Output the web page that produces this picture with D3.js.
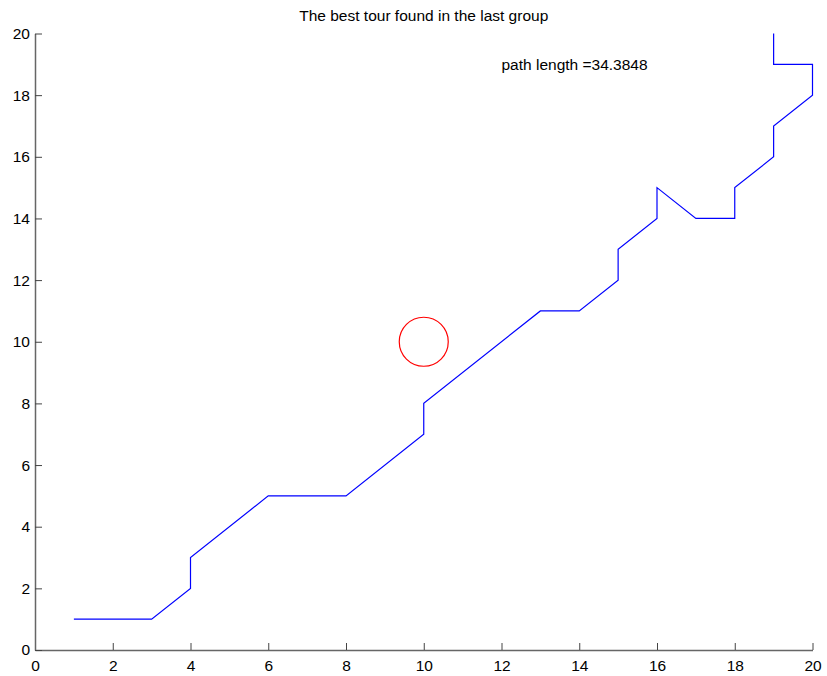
<!DOCTYPE html>
<html>
<head>
<meta charset="utf-8">
<script src="https://cdn.jsdelivr.net/npm/d3@7/dist/d3.min.js"></script>
<style>
  html, body { margin: 0; padding: 0; background: #fff; }
  svg { display: block; font-family: "Liberation Sans", Arial, sans-serif; }
</style>
</head>
<body>
<svg id="chart" width="827" height="676"></svg>
<script>
// Tour vertices, in visiting order
const tourX = [1, 3, 4, 4, 6, 8, 10, 10, 13, 14, 15, 15, 16, 16, 17, 18, 18, 19, 19, 20, 20, 19, 19];
const tourY = [1, 1, 2, 3, 5, 5, 7, 8, 11, 11, 12, 13, 14, 15, 14, 14, 15, 16, 17, 18, 19, 19, 20];

// Depot marker
const depotX = [10];
const depotY = [10];

const xTicks = [0, 2, 4, 6, 8, 10, 12, 14, 16, 18, 20];
const yTicks = [0, 2, 4, 6, 8, 10, 12, 14, 16, 18, 20];

const titleText = "The best tour found in the last group";
const pathLengthText = "path length =34.3848";
const labelPos = [12, 19];

const svg = d3.select("#chart");
const margin = { left: 35, right: 14.5, top: 33.5, bottom: 26 };
const W = 827, H = 676;
const FONT = 15.5;

const x = d3.scaleLinear().domain([0, 20]).range([margin.left, W - margin.right]);
const y = d3.scaleLinear().domain([0, 20]).range([H - margin.bottom, margin.top]);

// Axes: ticks point into the plot area
const xAxis = d3.axisBottom(x).tickValues(xTicks).tickSizeInner(-7).tickSizeOuter(0).tickPadding(13);
const yAxis = d3.axisLeft(y).tickValues(yTicks).tickSizeInner(-7).tickSizeOuter(0).tickPadding(5);

const gx = svg.append("g").attr("transform", `translate(0,${y(0)})`).call(xAxis);
const gy = svg.append("g").attr("transform", `translate(${x(0)},0)`).call(yAxis);

[gx, gy].forEach(g => {
  g.select(".domain").attr("stroke", "#666").attr("stroke-width", 1.5);
  g.selectAll(".tick line").attr("stroke", "#444").attr("stroke-width", 1);
  g.selectAll(".tick text")
    .attr("fill", "#000")
    .attr("font-size", FONT)
    .attr("font-family", "'Liberation Sans', Arial, sans-serif");
});
gx.selectAll(".tick text").attr("dy", "0.5em");

// Tour path
const pts = tourX.map((v, i) => [v, tourY[i]]);
const line = d3.line().x(d => x(d[0])).y(d => y(d[1]));
svg.append("path")
  .datum(pts)
  .attr("d", line)
  .attr("fill", "none")
  .attr("stroke", "#0000ff")
  .attr("stroke-width", 1.2)
  .attr("stroke-linejoin", "miter");

// Depot circle
svg.selectAll("circle.depot")
  .data(depotX.map((v, i) => [v, depotY[i]]))
  .join("circle")
  .attr("class", "depot")
  .attr("cx", d => x(d[0]))
  .attr("cy", d => y(d[1]))
  .attr("r", 24.5)
  .attr("fill", "none")
  .attr("stroke", "#ff0000")
  .attr("stroke-width", 1.2);

// Title
svg.append("text")
  .attr("x", (x(0) + x(20)) / 2)
  .attr("y", 21)
  .attr("text-anchor", "middle")
  .attr("font-size", FONT)
  .attr("fill", "#000")
  .text(titleText);

// Path length annotation
svg.append("text")
  .attr("x", x(labelPos[0]))
  .attr("y", y(labelPos[1]))
  .attr("dy", "0.35em")
  .attr("font-size", FONT)
  .attr("fill", "#000")
  .text(pathLengthText);
</script>
</body>
</html>
